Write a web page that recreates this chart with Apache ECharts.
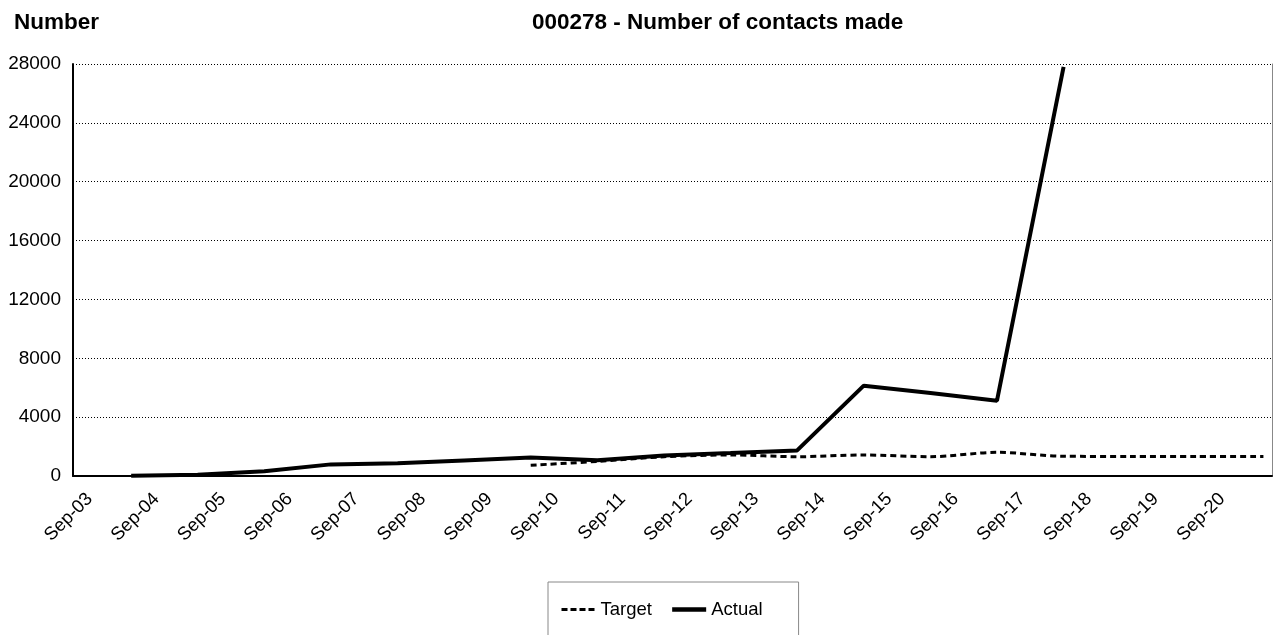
<!DOCTYPE html>
<html>
<head>
<meta charset="utf-8">
<script src="https://cdn.jsdelivr.net/npm/echarts@6/dist/echarts.min.js"></script>
<style>
html,body{margin:0;padding:0;background:#fff;}
#chart{width:1280px;height:635px;}
</style>
</head>
<body>
<div id="chart"></div>
<script>
// Tick labels (September of each year)
const tickLabels = ['Sep-03','Sep-04','Sep-05','Sep-06','Sep-07','Sep-08','Sep-09','Sep-10','Sep-11','Sep-12','Sep-13','Sep-14','Sep-15','Sep-16','Sep-17','Sep-18','Sep-19','Sep-20'];
// Reporting dates of each annual value
const reportDates = ['2004-04-15','2005-04-15','2006-04-15','2007-04-15','2008-04-15','2009-04-15','2010-04-15','2011-04-15','2012-04-15','2013-04-15','2014-04-15','2015-04-15','2016-04-15','2017-04-15','2018-04-15','2019-04-15','2020-04-15','2021-04-15'];
// Series values (null = no value)
const actualValues = [20, 80, 320, 790, 860, 1060, 1260, 1070, 1390, 1560, 1740, 6140, 5640, 5120, 27800, null, null, null];
const targetValues = [null, null, null, null, null, null, 730, 990, 1310, 1430, 1310, 1430, 1310, 1610, 1340, 1330, 1330, 1330];
const yTicks = [0, 4000, 8000, 12000, 16000, 20000, 24000, 28000];

function toYear(s) {
  const p = s.split('-').map(Number);
  const d0 = Date.UTC(p[0], 0, 1), d1 = Date.UTC(p[0] + 1, 0, 1);
  return p[0] + (Date.UTC(p[0], p[1] - 1, p[2]) - d0) / (d1 - d0);
}
const labelYears = tickLabels.map(t => toYear('20' + t.slice(4) + '-09-01'));
const xs = reportDates.map(toYear);
const actualData = xs.map((x, i) => actualValues[i] == null ? null : [x, actualValues[i]]).filter(d => d);
const targetData = xs.map((x, i) => targetValues[i] == null ? null : [x, targetValues[i]]).filter(d => d);

const FONT = 'Liberation Sans, Arial, sans-serif';
const chart = echarts.init(document.getElementById('chart'));
chart.setOption({
  animation: false,
  backgroundColor: '#fff',
  title: [
    { text: 'Number', left: 9, top: 6, textStyle: { fontFamily: FONT, fontSize: 22.5, fontWeight: 'bold', color: '#000' } },
    { text: '000278 - Number of contacts made', left: 527, top: 6, textStyle: { fontFamily: FONT, fontSize: 22.5, fontWeight: 'bold', color: '#000' } }
  ],
  grid: { left: 73, right: 8, top: 64, bottom: 159, containLabel: false },
  legend: {
    left: 548, top: 582,
    padding: [18, 36, 30, 12],
    borderColor: '#888', borderWidth: 1,
    itemWidth: 34, itemHeight: 14, itemGap: 18,
    itemStyle: { opacity: 0 },
    textStyle: { fontFamily: FONT, fontSize: 18.5, color: '#000' },
    data: [
      { name: 'Target', lineStyle: { width: 3, type: [6, 3] } },
      { name: 'Actual', lineStyle: { width: 4.5 } }
    ]
  },
  xAxis: {
    type: 'value',
    min: toYear('2003-06-01'),
    max: toYear('2021-06-01'),
    axisLine: { show: true, onZero: false, lineStyle: { color: '#000', width: 2 } },
    axisTick: { show: false },
    splitLine: { show: false },
    axisLabel: {
      customValues: labelYears,
      rotate: 45,
      margin: 20,
      fontFamily: FONT, fontSize: 18.5, color: '#000',
      formatter: function (v) {
        let best = 0, bd = Infinity;
        labelYears.forEach((y, i) => { const d = Math.abs(y - v); if (d < bd) { bd = d; best = i; } });
        return tickLabels[best];
      }
    }
  },
  yAxis: [
    {
      type: 'value', min: yTicks[0], max: yTicks[yTicks.length - 1], interval: yTicks[1] - yTicks[0],
      axisLine: { show: true, lineStyle: { color: '#000', width: 2 } },
      axisTick: { show: false },
      axisLabel: { margin: 12, fontFamily: FONT, fontSize: 19, color: '#000', formatter: v => String(v) },
      splitLine: { show: true, lineStyle: { color: '#000', width: 1, type: [1, 2] } }
    },
    {
      type: 'value', position: 'right', min: yTicks[0], max: yTicks[yTicks.length - 1],
      axisLine: { show: true, lineStyle: { color: '#888', width: 1 } },
      axisTick: { show: false }, axisLabel: { show: false }, splitLine: { show: false }
    }
  ],
  series: [
    {
      name: 'Target', type: 'line', data: targetData, symbol: 'none', smooth: 0.3,
      lineStyle: { color: '#000', width: 3, type: [6, 4] }, itemStyle: { color: '#000' }
    },
    {
      name: 'Actual', type: 'line', data: actualData, symbol: 'none',
      lineStyle: { color: '#000', width: 4 }, itemStyle: { color: '#000' }
    }
  ]
});
</script>
</body>
</html>
